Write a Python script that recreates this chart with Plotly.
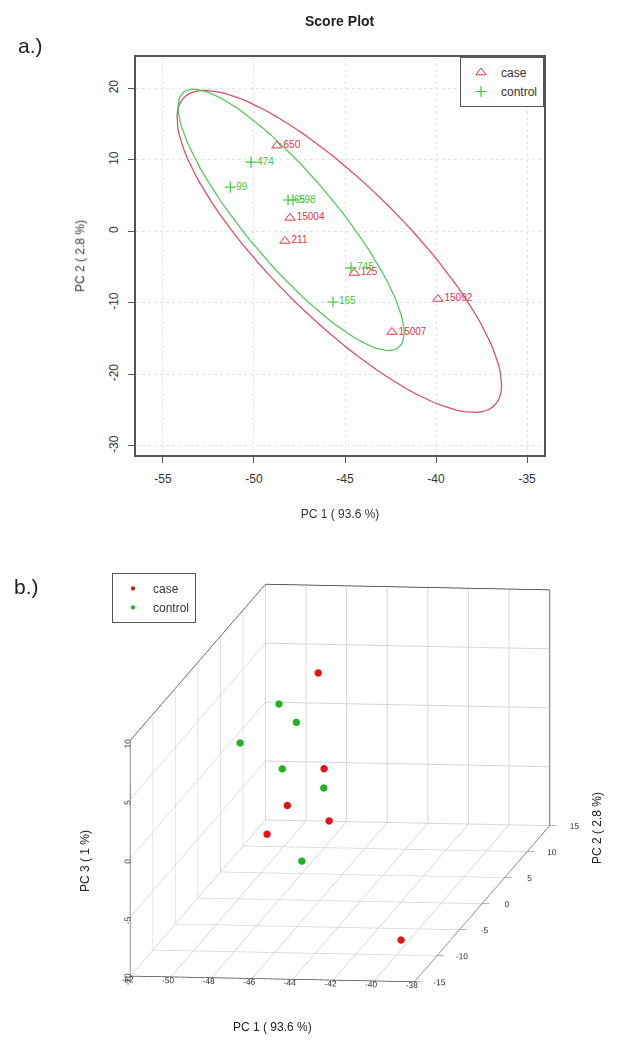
import numpy as np
import plotly.graph_objects as go

# ---------------- data ----------------
case_ids = ["650", "15004", "211", "125", "15092", "15007"]
case_pc1 = [-48.74, -48.02, -48.30, -44.50, -39.90, -42.42]
case_pc2 = [12.00, 1.90, -1.33, -5.80, -9.44, -14.06]
case_pc3 = [3.92, -2.84, -3.86, 3.80, -8.97, 3.09]

control_ids = ["474", "99", "65", "598", "745", "165"]
control_pc1 = [-50.16, -51.30, -48.13, -47.86, -44.67, -45.66]
control_pc2 = [9.70, 6.20, 4.40, 4.40, -5.10, -9.86]
control_pc3 = [2.25, 0.45, 3.10, -8.66, 1.85, 5.54]

x_ticks = [-55, -50, -45, -40, -35]
y_ticks = [-30, -20, -10, 0, 10, 20]
x3_ticks = [-52, -50, -48, -46, -44, -42, -40, -38]
y3_ticks = [-15, -10, -5, 0, 5, 10, 15]
z3_ticks = [-10, -5, 0, 5, 10]

RED = "#E6323F"
GREEN = "#3CC83C"
RED_L = "rgba(214,48,80,0.85)"
GREEN_L = "rgba(60,190,70,0.85)"
RED3 = "#E31414"
GREEN3 = "#1FB41F"
FONT = "Liberation Sans, Arial, sans-serif"


def conf_ellipse(xs, ys, level=0.95, npoints=100):
    pts = np.column_stack([xs, ys])
    cov = np.cov(pts.T)
    mx, my = pts.mean(axis=0)
    t = np.sqrt(-2.0 * np.log(1.0 - level))
    sx, sy = np.sqrt(np.diag(cov))
    r = cov[0, 1] / (sx * sy)
    d = np.arccos(r)
    a = np.linspace(0, 2 * np.pi, npoints)
    return t * sx * np.cos(a + d / 2) + mx, t * sy * np.cos(a - d / 2) + my


def labels(vals):
    return [str(v) for v in vals]


fig = go.Figure()

ex, ey = conf_ellipse(case_pc1, case_pc2)
fig.add_trace(go.Scatter(x=ex, y=ey, mode="lines", line=dict(color=RED_L, width=1.3),
                         showlegend=False, hoverinfo="skip"))
gx, gy = conf_ellipse(control_pc1, control_pc2)
fig.add_trace(go.Scatter(x=gx, y=gy, mode="lines", line=dict(color=GREEN_L, width=1.3),
                         showlegend=False, hoverinfo="skip"))

fig.add_trace(go.Scatter(
    x=case_pc1, y=case_pc2, text=case_ids, mode="markers+text", name="case",
    textposition="middle right", textfont=dict(color=RED, size=10, family=FONT),
    marker=dict(symbol="triangle-up-open", size=9, color=RED, line=dict(width=1, color=RED)),
    legend="legend"))
fig.add_trace(go.Scatter(
    x=control_pc1, y=control_pc2, text=control_ids, mode="markers+text", name="control",
    textposition="middle right", textfont=dict(color=GREEN, size=10, family=FONT),
    marker=dict(symbol="cross-thin-open", size=8, color=GREEN, line=dict(width=1.2, color=GREEN)),
    legend="legend"))

# ---------------- 3D ----------------
fig.add_trace(go.Scatter3d(
    x=case_pc1, y=case_pc2, z=case_pc3, mode="markers", name="case",
    marker=dict(size=4.3, color=RED3, line=dict(width=0)), legend="legend2", scene="scene"))
fig.add_trace(go.Scatter3d(
    x=control_pc1, y=control_pc2, z=control_pc3, mode="markers", name="control",
    marker=dict(size=4.3, color=GREEN3, line=dict(width=0)), legend="legend2", scene="scene"))

axis_line = "#555555"


def ax3(rng, ticks, angle, tlen=4):
    return dict(range=rng, tickvals=ticks, ticktext=labels(ticks), tickangle=angle,
                title=dict(text=""),
                showgrid=True, gridcolor="#d6d6d6", showline=True, linecolor="#333",
                linewidth=1.5, mirror=True,
                zeroline=False, showbackground=False, tickfont=dict(size=10, color="#333"),
                ticks="outside", ticklen=tlen, tickcolor="#333", showspikes=False)


def note(text, x, y, size=12, angle=0, bold=False):
    return dict(text=f"<b>{text}</b>" if bold else text, x=x / 619, y=1 - y / 1044,
                xref="paper", yref="paper", showarrow=False, textangle=angle,
                font=dict(size=size, color="#222"), xanchor="center", yanchor="middle")


fig.update_layout(
    width=619, height=1044,
    margin=dict(l=0, r=0, t=0, b=0),
    paper_bgcolor="white", plot_bgcolor="white",
    font=dict(family=FONT, size=12, color="#222222"),
    xaxis=dict(domain=[136 / 619, 544 / 619], range=[-56.48, -34.07],
               tickvals=x_ticks, ticktext=labels(x_ticks),
               ticks="outside", ticklen=6, tickcolor=axis_line, ticklabelstandoff=6,
               showline=True, mirror=True, linecolor=axis_line, linewidth=1.5,
               showgrid=True, gridcolor="#e3e3e3", griddash="dot", zeroline=False,
               tickfont=dict(size=12, color="#333"),
               title=dict(text="PC 1 ( 93.6 %)", font=dict(size=12, color="#333"), standoff=24)),
    yaxis=dict(domain=[1 - 455 / 1044, 1 - 57 / 1044], range=[-31.26, 24.4],
               tickvals=y_ticks, ticktext=labels(y_ticks),
               ticks="outside", ticklen=6, tickcolor=axis_line, ticklabelstandoff=5,
               tickangle=-90,
               showline=True, mirror=True, linecolor=axis_line, linewidth=1.5,
               showgrid=True, gridcolor="#e3e3e3", griddash="dot", zeroline=False,
               tickfont=dict(size=12, color="#333"),
               title=dict(text="PC 2 ( 2.8 %)", font=dict(size=12, color="#333"), standoff=20)),
    legend=dict(x=544 / 619, y=1 - 57 / 1044, xanchor="right", yanchor="top",
                bordercolor="#555", borderwidth=1, bgcolor="white", itemwidth=30,
                font=dict(size=12, color="#333"), tracegroupgap=0),
    legend2=dict(x=112 / 619, y=1 - 573 / 1044, xanchor="left", yanchor="top",
                 bordercolor="#555", borderwidth=1, bgcolor="white", itemwidth=30,
                 font=dict(size=12, color="#333")),
    scene=dict(
        domain=dict(x=[0.098, 1.0], y=[0.025, 0.475]),
        xaxis=ax3([-52, -38], x3_ticks, 0, 7),
        yaxis=ax3([-15, 15], y3_ticks, 0),
        zaxis=ax3([-10, 10], z3_ticks, -90, 6),
        aspectmode="manual", aspectratio=dict(x=1.22, y=4.41, z=1.015),
        camera=dict(projection=dict(type="orthographic"),
                    eye=dict(x=0.6765, y=-5.1425, z=0.7975), up=dict(x=0, y=0, z=1),
                    center=dict(x=0, y=0, z=0)),
    ),
    annotations=[
        note("Score Plot", 340, 21, size=14, bold=True),
        dict(text="a.)", x=16 / 619, y=1 - 45 / 1044, xref="paper", yref="paper",
             showarrow=False, font=dict(size=21, color="#222"), xanchor="left", yanchor="middle"),
        dict(text="b.)", x=12 / 619, y=1 - 586 / 1044, xref="paper", yref="paper",
             showarrow=False, font=dict(size=21, color="#222"), xanchor="left", yanchor="middle"),
        note("PC 1 ( 93.6 %)", 272, 1027),
        note("PC 3 ( 1 %)", 85, 861, angle=-90),
        note("PC 2 ( 2.8 %)", 597, 828, angle=-90),
    ],
)

fig.write_html("out.html", post_script="document.body.style.margin='0px';",
               config={"displayModeBar": False})
